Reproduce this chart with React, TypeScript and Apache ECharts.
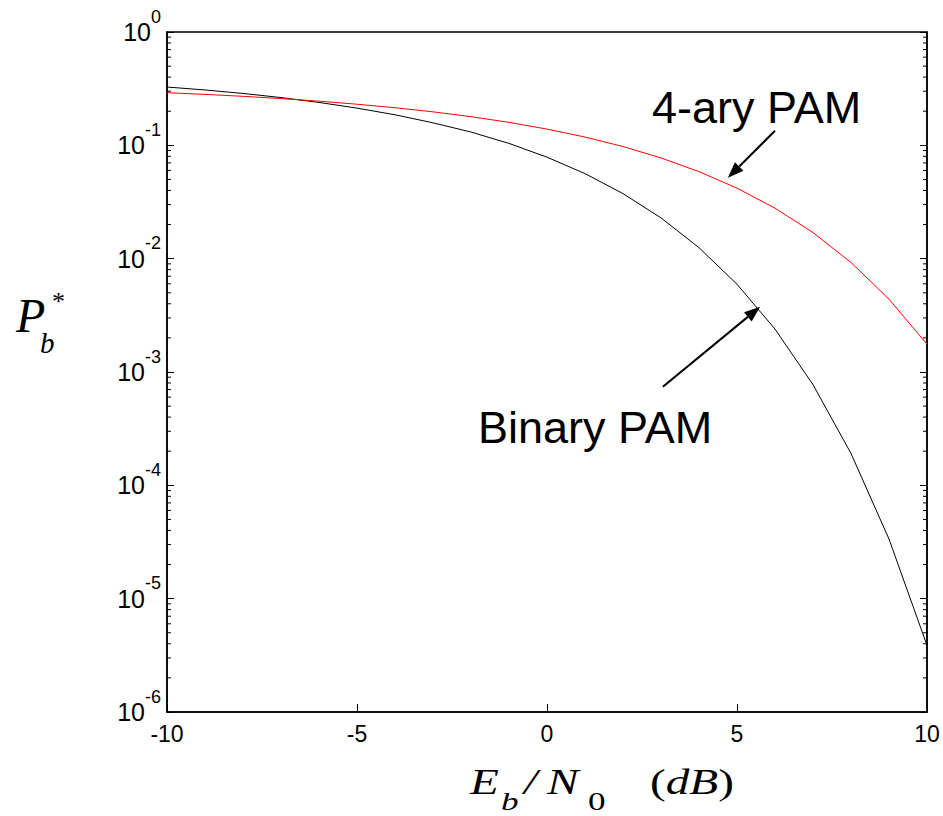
import React, { useEffect, useRef } from "react";
import * as echarts from "echarts";

// Eb/N0 in dB
const snrDb = [-10, -9, -8, -7, -6, -5, -4, -3, -2, -1, 0, 1, 2, 3, 4, 5, 6, 7, 8, 9, 10];
// Bit error probability, binary PAM
const binaryPam = [
  0.327, 0.308, 0.287, 0.264, 0.239, 0.213, 0.186, 0.158, 0.131, 0.104, 0.0786,
  0.0563, 0.0375, 0.0229, 0.0125, 0.00595, 0.00239, 7.73e-4, 1.91e-4, 3.36e-5, 3.87e-6,
];
// Bit error probability, 4-ary PAM
const pam4 = [
  0.2915, 0.2816, 0.2707, 0.2586, 0.2453, 0.2306, 0.2147, 0.1975, 0.179, 0.1595, 0.1391,
  0.1183, 0.0976, 0.0774, 0.0586, 0.0419, 0.0279, 0.017, 0.00925, 0.00439, 0.00176,
];
// Minor tick mantissas / decades for the log axis
const minorMantissas = [2, 3, 4, 5, 6, 7, 8, 9];
const decades = [-6, -5, -4, -3, -2, -1];
// Annotation arrows in data coordinates: [from, to(tip)]
const arrow4ary = [[6.0, 0.1344], [4.76, 0.0517]];
const arrowBinary = [[3.05, 7.4e-4], [5.61, 3.77e-3]];

const SANS = '"Liberation Sans", Arial, sans-serif';
const SERIF = '"Liberation Serif", "Times New Roman", serif';

export default function App() {
  const ref = useRef<HTMLDivElement>(null);
  useEffect(() => {
    const chart = echarts.init(ref.current!, null, { renderer: "svg" });
    const minorTicks: number[][] = [];
    decades.forEach((e) => minorMantissas.forEach((m) => minorTicks.push([-10, m * Math.pow(10, e)])));

    const yLabel = (v: number) => `{b|10}{s|${Math.round(Math.log10(v))}}`;
    const yRich = {
      b: { fontSize: 25, fontFamily: SANS, color: "#000", lineHeight: 25 },
      s: { fontSize: 18, fontFamily: SANS, color: "#000", lineHeight: 18, padding: [0, 0, 31, 0] },
    };

    chart.setOption({
      animation: false,
      backgroundColor: "#fff",
      grid: { left: 167, right: 16, top: 32, bottom: 104, show: true, borderColor: "#000", borderWidth: 1.5 },
      xAxis: {
        type: "value",
        min: -10,
        max: 10,
        interval: 5,
        axisLine: { onZero: false, lineStyle: { color: "#000", width: 1.5 } },
        axisTick: { inside: true, length: 8, lineStyle: { color: "#000", width: 1 } },
        axisLabel: { color: "#000", fontSize: 23, fontFamily: SANS, margin: 10 },
        splitLine: { show: false },
      },
      yAxis: [
        {
          type: "log",
          logBase: 10,
          min: 1e-6,
          max: 1,
          interval: 1,
          splitNumber: 6,
          axisLine: { onZero: false, lineStyle: { color: "#000", width: 1.5 } },
          axisTick: { inside: true, length: 7, lineStyle: { color: "#000", width: 1 } },
          axisLabel: { formatter: yLabel, rich: yRich, fontSize: 25, fontFamily: SANS, color: "#000", margin: 6 },
          splitLine: { show: false },
        },
        {
          type: "log",
          logBase: 10,
          min: 1e-6,
          max: 1,
          interval: 1,
          splitNumber: 6,
          position: "right",
          axisLine: { onZero: false, lineStyle: { color: "#000", width: 1.5 } },
          axisTick: { inside: true, length: 7, lineStyle: { color: "#000", width: 1 } },
          axisLabel: { show: false },
          splitLine: { show: false },
        },
      ],
      series: [
        {
          type: "custom",
          silent: true,
          coordinateSystem: "cartesian2d",
          data: minorTicks,
          renderItem: (params: any, api: any) => {
            const v = api.value(1);
            const l = api.coord([-10, v]);
            const r = api.coord([10, v]);
            const style = { stroke: "#000", lineWidth: 1 };
            return {
              type: "group",
              children: [
                { type: "line", shape: { x1: l[0], y1: l[1], x2: l[0] + 4, y2: l[1] }, style },
                { type: "line", shape: { x1: r[0], y1: r[1], x2: r[0] - 4, y2: r[1] }, style },
              ],
            };
          },
        },
        {
          type: "line",
          name: "Binary PAM",
          data: snrDb.map((x, i) => [x, binaryPam[i]]),
          showSymbol: false,
          lineStyle: { color: "#000", width: 1 },
          itemStyle: { color: "#000" },
        },
        {
          type: "line",
          name: "4-ary PAM",
          data: snrDb.map((x, i) => [x, pam4[i]]),
          showSymbol: false,
          lineStyle: { color: "#ff0000", width: 1 },
          itemStyle: { color: "#ff0000" },
        },
      ],
    });

    const makeArrow = (a: number[][]) => {
      const p0 = chart.convertToPixel({ gridIndex: 0 }, a[0]) as number[];
      const p1 = chart.convertToPixel({ gridIndex: 0 }, a[1]) as number[];
      const dx = p1[0] - p0[0];
      const dy = p1[1] - p0[1];
      const len = Math.sqrt(dx * dx + dy * dy);
      const ux = dx / len;
      const uy = dy / len;
      const hl = 16;
      const hw = 6;
      const bx = p1[0] - ux * hl;
      const by = p1[1] - uy * hl;
      return [
        { type: "line", shape: { x1: p0[0], y1: p0[1], x2: bx, y2: by }, style: { stroke: "#000", lineWidth: 2 } },
        {
          type: "polygon",
          shape: { points: [[p1[0], p1[1]], [bx - uy * hw, by + ux * hw], [bx + uy * hw, by - ux * hw]] },
          style: { fill: "#000" },
        },
      ];
    };

    const txt = (text: string, x: number, y: number, font: string, sx = 1) => ({
      type: "text",
      x,
      y,
      scaleX: sx,
      style: { text, font, fill: "#000", textAlign: "left", textVerticalAlign: "middle" },
    });
    const SX = 1.35;

    chart.setOption({
      graphic: [
        ...makeArrow(arrow4ary),
        ...makeArrow(arrowBinary),
        txt("4-ary PAM", 652, 107, `45px ${SANS}`),
        txt("Binary PAM", 478, 427, `45px ${SANS}`),
        // y title P_b^*
        txt("P", 16, 315, `italic 48px ${SERIF}`),
        txt("b", 40, 343, `italic 29px ${SERIF}`),
        txt("*", 52, 301, `26px ${SERIF}`),
        // x title E_b / N_0 (dB)
        txt("E", 470, 782, `italic 35px ${SERIF}`, SX),
        txt("b", 501, 801, `italic 26px ${SERIF}`, SX),
        txt("/", 524, 782, `italic 35px ${SERIF}`, SX),
        txt("N", 547, 782, `italic 35px ${SERIF}`, SX),
        txt("0", 588, 801, `26px ${SERIF}`, SX),
        {
          type: "text",
          x: 650,
          y: 782,
          scaleX: SX,
          style: {
            text: "{u|(}{i|dB}{u|)}",
            fill: "#000",
            textAlign: "left",
            textVerticalAlign: "middle",
            rich: {
              u: { font: `35px ${SERIF}`, fill: "#000" },
              i: { font: `italic 35px ${SERIF}`, fill: "#000" },
            },
          },
        },
      ],
    });

    return () => chart.dispose();
  }, []);
  return (
    <div
      ref={ref}
      style={{ position: "absolute", left: 0, top: 0, width: 943, height: 816, background: "#fff" }}
    />
  );
}
